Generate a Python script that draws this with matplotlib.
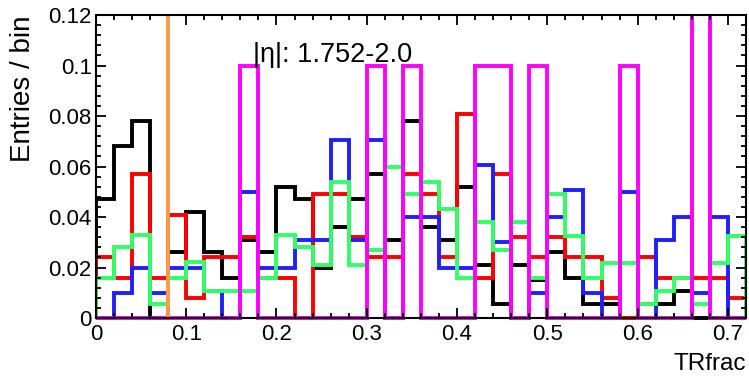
#!/usr/bin/env python3
"""TRfrac distributions per category, |eta| 1.752-2.0, ROOT-style step histograms."""

import matplotlib

matplotlib.use("Agg")
import matplotlib.pyplot as plt
import numpy as np
from matplotlib.patches import Rectangle
from matplotlib.ticker import FormatStrFormatter, MultipleLocator

plt.rcParams["font.family"] = ["Liberation Sans", "DejaVu Sans"]

# 36 bins of width 0.02 over [0, 0.72]
bin_edges = np.linspace(0.0, 0.72, 37)

black = [0.047, 0.068, 0.078, 0.0, 0.026, 0.042, 0.026, 0.016, 0.031, 0.026,
         0.052, 0.047, 0.020, 0.036, 0.047, 0.057, 0.031, 0.078, 0.036, 0.031,
         0.052, 0.021, 0.0055, 0.021, 0.015, 0.026, 0.016, 0.0055, 0.0055, 0.0,
         0.0055, 0.0055, 0.0107, 0.0, 0.0, 0.0]
red = [0.024, 0.016, 0.057, 0.016, 0.041, 0.008, 0.024, 0.024, 0.032, 0.016,
       0.016, 0.0, 0.049, 0.049, 0.032, 0.024, 0.024, 0.057, 0.049, 0.024,
       0.081, 0.016, 0.057, 0.032, 0.024, 0.032, 0.024, 0.024, 0.008, 0.0,
       0.024, 0.016, 0.016, 0.016, 0.016, 0.008]
blue = [0.0, 0.010, 0.020, 0.010, 0.020, 0.020, 0.0107, 0.0, 0.050, 0.020,
        0.020, 0.031, 0.031, 0.0705, 0.031, 0.0705, 0.0, 0.040, 0.040, 0.020,
        0.020, 0.0605, 0.030, 0.0, 0.0098, 0.040, 0.0507, 0.010, 0.0, 0.050,
        0.0, 0.031, 0.040, 0.0098, 0.040, 0.0]
green = [0.016, 0.028, 0.033, 0.0055, 0.016, 0.022, 0.0107, 0.0107, 0.0107, 0.016,
         0.033, 0.028, 0.021, 0.054, 0.021, 0.027, 0.060, 0.049, 0.054, 0.043,
         0.016, 0.038, 0.027, 0.038, 0.016, 0.049, 0.0325, 0.016, 0.0216, 0.0216,
         0.0055, 0.0107, 0.016, 0.0055, 0.0216, 0.0325]
magenta = [0, 0, 0, 0, 0, 0, 0, 0, 0.1, 0,
           0, 0, 0, 0, 0, 0.1, 0, 0.1, 0, 0,
           0, 0.1, 0.1, 0, 0.1, 0, 0, 0, 0, 0.1,
           0, 0, 0, 0.3, 0, 0]
cut_value = 0.08
eta_label = "|η|: 1.752-2.0"

series = [
    (black, "black"),
    (red, "#ff0000"),
    (blue, "#2020ff"),
    (green, "#33ff66"),
    (magenta, "#ff00ff"),
]

fig = plt.figure(figsize=(7.49, 3.77), dpi=100)
ax = fig.add_axes([0.128, 0.1565, 0.868, 0.8035])

for values, color in series:
    st = ax.stairs(values, bin_edges, baseline=0, color=color, linewidth=2.8)
    # let lines sitting on zero show at full width, but clip at the top
    st.set_clip_path(Rectangle((0, -0.02), 1, 1.02, transform=ax.transAxes))

ax.axvline(cut_value, color="#ff9948", linewidth=2.8)

ax.set_xlim(0, 0.72)
ax.set_ylim(0, 0.12)

ax.xaxis.set_major_locator(MultipleLocator(0.1))
ax.xaxis.set_minor_locator(MultipleLocator(0.02))
ax.yaxis.set_major_locator(MultipleLocator(0.02))
ax.yaxis.set_minor_locator(MultipleLocator(0.004))
ax.xaxis.set_major_formatter(FormatStrFormatter("%g"))
ax.yaxis.set_major_formatter(FormatStrFormatter("%g"))

ax.tick_params(which="both", direction="in", top=True, right=True, width=1.3)
ax.tick_params(which="major", length=7, labelsize=16)
ax.tick_params(which="minor", length=3.6)
ax.tick_params(axis="x", which="major", pad=4.5)
ax.tick_params(axis="y", which="major", pad=3)
for sp in ax.spines.values():
    sp.set_linewidth(1.5)

ax.set_ylabel("Entries / bin", fontsize=20, loc="top")
ax.yaxis.set_label_coords(-0.092, 1.0)
ax.set_xlabel("TRfrac", fontsize=17.5, loc="right")
ax.xaxis.set_label_coords(1.0, -0.115)

ax.text(0.2415, 0.845, eta_label, transform=ax.transAxes, fontsize=19.5,
        va="baseline")

fig.savefig("out.png", dpi=100)
